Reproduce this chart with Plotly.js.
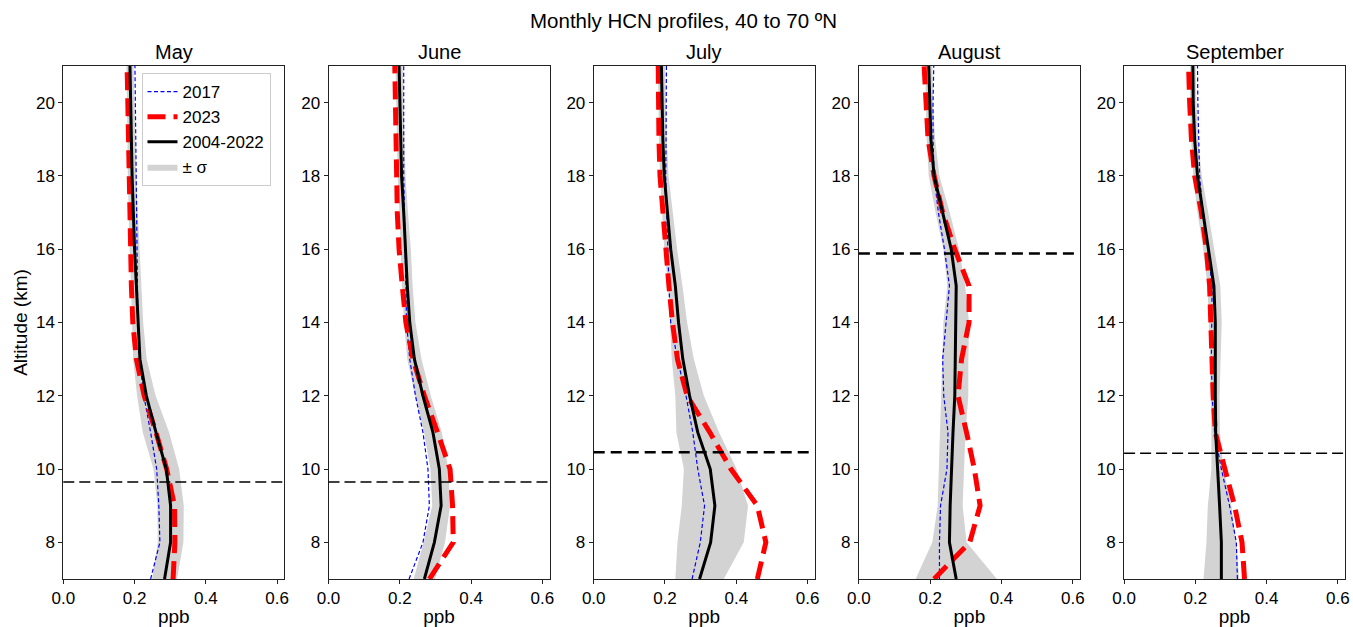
<!DOCTYPE html>
<html>
<head>
<meta charset="utf-8">
<script src="https://cdn.plot.ly/plotly-3.0.1.min.js"></script>
<style>html,body{margin:0;padding:0;background:#fff;}#chart{width:1353px;height:627px;}</style>
</head>
<body>
<div id="chart"></div>
<script>
// ---- data ----
var months = ["May", "June", "July", "August", "September"];
var altitude = [7, 8, 9, 10, 11, 12, 13, 14, 15, 16, 17, 18, 19, 20, 21];

var mean_may  = [0.284,0.301,0.301,0.289,0.260,0.233,0.215,0.209,0.205,0.200,0.196,0.193,0.191,0.189,0.187];
var y2017_may = [0.245,0.271,0.268,0.262,0.245,0.226,0.214,0.209,0.208,0.207,0.206,0.205,0.204,0.202,0.201];
var y2023_may = [0.308,0.313,0.312,0.290,0.260,0.227,0.205,0.195,0.191,0.189,0.186,0.184,0.183,0.181,0.179];
var sigma_may = [0.035,0.036,0.037,0.036,0.037,0.026,0.019,0.015,0.015,0.014,0.013,0.012,0.011,0.010,0.010];

var mean_jun  = [0.269,0.297,0.316,0.311,0.293,0.265,0.241,0.228,0.221,0.217,0.211,0.205,0.202,0.200,0.198];
var y2017_jun = [0.226,0.265,0.283,0.279,0.265,0.244,0.228,0.219,0.217,0.215,0.212,0.211,0.211,0.211,0.211];
var y2023_jun = [0.283,0.350,0.348,0.341,0.306,0.269,0.237,0.217,0.207,0.198,0.193,0.191,0.188,0.186,0.186];
var sigma_jun = [0.030,0.030,0.025,0.025,0.025,0.022,0.020,0.016,0.015,0.014,0.012,0.011,0.010,0.010,0.010];

var mean_jul  = [0.297,0.328,0.340,0.327,0.292,0.269,0.250,0.238,0.229,0.216,0.207,0.198,0.194,0.192,0.190];
var y2017_jul = [0.276,0.299,0.311,0.292,0.278,0.259,0.235,0.216,0.211,0.208,0.204,0.202,0.203,0.204,0.204];
var y2023_jul = [0.459,0.483,0.459,0.385,0.326,0.262,0.235,0.221,0.211,0.202,0.192,0.186,0.183,0.181,0.181];
var sigma_jul = [0.068,0.093,0.093,0.074,0.060,0.040,0.031,0.024,0.020,0.018,0.015,0.012,0.011,0.010,0.010];

var mean_aug  = [0.273,0.254,0.256,0.259,0.264,0.269,0.271,0.273,0.273,0.259,0.235,0.211,0.202,0.198,0.196];
var y2017_aug = [0.226,0.226,0.229,0.247,0.250,0.238,0.235,0.245,0.254,0.240,0.223,0.211,0.208,0.208,0.210];
var y2023_aug = [0.211,0.311,0.340,0.324,0.302,0.278,0.288,0.309,0.309,0.269,0.235,0.211,0.194,0.188,0.183];
var sigma_aug = [0.114,0.048,0.035,0.035,0.035,0.038,0.036,0.036,0.025,0.022,0.020,0.015,0.012,0.010,0.010];

var mean_sep  = [0.273,0.273,0.268,0.262,0.257,0.256,0.256,0.256,0.252,0.237,0.221,0.206,0.198,0.194,0.193];
var y2017_sep = [0.318,0.315,0.296,0.273,0.254,0.247,0.245,0.247,0.247,0.236,0.221,0.212,0.209,0.207,0.206];
var y2023_sep = [0.338,0.331,0.310,0.282,0.256,0.250,0.247,0.245,0.240,0.231,0.217,0.198,0.189,0.184,0.181];
var sigma_sep = [0.050,0.042,0.033,0.017,0.012,0.012,0.015,0.018,0.018,0.015,0.015,0.012,0.010,0.009,0.008];

var tropopause = [9.65, 9.65, 10.46, 15.88, 10.43];
var seriesNames = ["2017", "2023", "2004-2022", "\u00b1 \u03c3"];
var xTickVals = [0.0, 0.2, 0.4, 0.6];
var xTickText = ["0.0", "0.2", "0.4", "0.6"];
var yTickVals = [8, 10, 12, 14, 16, 18, 20];

var meanSets  = [mean_may, mean_jun, mean_jul, mean_aug, mean_sep];
var y2017Sets = [y2017_may, y2017_jun, y2017_jul, y2017_aug, y2017_sep];
var y2023Sets = [y2023_may, y2023_jun, y2023_jul, y2023_aug, y2023_sep];
var sigmaSets = [sigma_may, sigma_jun, sigma_jul, sigma_aug, sigma_sep];

// ---- layout geometry ----
var W = 1353, H = 627;
var M = {l: 63, r: 8, t: 66, b: 48};
var PW = W - M.l - M.r, PH = H - M.t - M.b;
function px2x(p) { return (p - M.l) / PW; }
function py2y(p) { return (H - M.b - p) / PH; }
var panelLeft0 = 63.3, panelStep = 265.2, panelWidth = 221;
var FONT = "Liberation Sans, Arial, Helvetica, sans-serif";

var traces = [];
var layout = {
  width: W, height: H,
  margin: M,
  paper_bgcolor: "#ffffff", plot_bgcolor: "#ffffff",
  font: {family: FONT, size: 17, color: "#000000"},
  showlegend: true,
  legend: {
    x: px2x(141.5), y: py2y(73), xanchor: "left", yanchor: "top",
    bgcolor: "rgba(255,255,255,0.85)", bordercolor: "#cccccc", borderwidth: 1,
    font: {family: FONT, size: 17, color: "#000"},
    itemwidth: 30, traceorder: "normal", tracegroupgap: 0
  },
  shapes: [], annotations: []
};

for (var i = 0; i < 5; i++) {
  var sfx = i === 0 ? "" : String(i + 1);
  var xa = "x" + sfx, ya = "y" + sfx;
  var mean = meanSets[i], sg = sigmaSets[i];
  var lo = mean.map(function (v, k) { return v - sg[k]; });
  var hi = mean.map(function (v, k) { return v + sg[k]; });
  var bandX = lo.concat(hi.slice().reverse());
  var bandY = altitude.concat(altitude.slice().reverse());
  var first = (i === 0);

  traces.push({type: "scatter", mode: "lines", x: bandX, y: bandY, fill: "toself",
    fillcolor: "#d3d3d3", line: {width: 0, color: "#d3d3d3"}, name: seriesNames[3],
    legendrank: 4, showlegend: first, xaxis: xa, yaxis: ya, hoverinfo: "skip"});
  traces.push({type: "scatter", mode: "lines", x: y2017Sets[i], y: altitude,
    line: {color: "#0000ff", width: 1.2, dash: "4px,2.5px"}, name: seriesNames[0],
    legendrank: 1, showlegend: first, xaxis: xa, yaxis: ya});
  traces.push({type: "scatter", mode: "lines", x: y2023Sets[i], y: altitude,
    line: {color: "#ff0000", width: 5, dash: "18px,8px"}, name: seriesNames[1],
    legendrank: 2, showlegend: first, xaxis: xa, yaxis: ya});
  traces.push({type: "scatter", mode: "lines", x: mean, y: altitude,
    line: {color: "#000000", width: 3}, name: seriesNames[2],
    legendrank: 3, showlegend: first, xaxis: xa, yaxis: ya});

  var left = panelLeft0 + panelStep * i;
  var axCommon = {
    showline: true, mirror: true, linecolor: "#222", linewidth: 1,
    showgrid: false, zeroline: false, ticks: "outside", ticklen: 4, tickwidth: 1,
    tickcolor: "#222", tickfont: {family: FONT, size: 17, color: "#000"}
  };
  layout["xaxis" + sfx] = Object.assign({}, axCommon, {
    domain: [px2x(left), px2x(left + panelWidth)], anchor: ya,
    range: [0, 0.62], tickvals: xTickVals, ticktext: xTickText,
    title: {text: "ppb", font: {family: FONT, size: 19, color: "#000"}, standoff: 4}
  });
  layout["yaxis" + sfx] = Object.assign({}, axCommon, {
    domain: [0, 1], anchor: xa, range: [7, 21], tickvals: yTickVals,
    title: first ? {text: "Altitude (km)", font: {family: FONT, size: 19, color: "#000"}, standoff: 3} : {text: ""}
  });

  layout.shapes.push({type: "line", xref: xa + " domain", yref: ya, x0: 0, x1: 1,
    y0: tropopause[i], y1: tropopause[i],
    line: {color: "#000", width: (i === 2 || i === 3) ? 2.5 : 1.5, dash: (i === 2 || i === 3) ? "11px,6px" : "11px,5px"}});

  layout.annotations.push({text: months[i], xref: "paper", yref: "paper",
    x: px2x(left + panelWidth / 2), y: py2y(52.5), xanchor: "center", yanchor: "middle",
    showarrow: false, font: {family: FONT, size: 20, color: "#000"}});
}
layout.annotations.push({text: "Monthly HCN profiles, 40 to 70 \u00baN", xref: "paper", yref: "paper",
  x: px2x(683), y: py2y(21), xanchor: "center", yanchor: "middle",
  showarrow: false, font: {family: FONT, size: 20.5, color: "#000"}});

Plotly.newPlot("chart", traces, layout, {staticPlot: true, displayModeBar: false});
</script>
</body>
</html>
